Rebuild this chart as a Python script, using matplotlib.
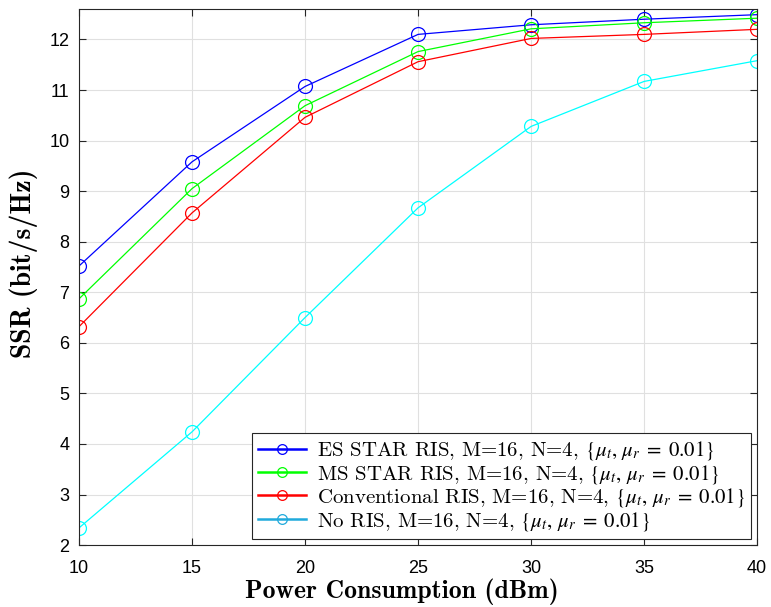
import matplotlib
matplotlib.use("Agg")
import matplotlib.pyplot as plt

power = [10, 15, 20, 25, 30, 35, 40]
es_star = [7.52, 9.58, 11.07, 12.10, 12.29, 12.40, 12.49]
ms_star = [6.87, 9.05, 10.69, 11.76, 12.21, 12.33, 12.42]
conv_ris = [6.32, 8.57, 10.46, 11.56, 12.02, 12.10, 12.20]
no_ris = [2.34, 4.24, 6.50, 8.67, 10.28, 11.17, 11.58]

labels = [
    r"ES STAR RIS, M=16, N=4, $\{\mu_t,\, \mu_r \;=\; 0.01\}$",
    r"MS STAR RIS, M=16, N=4, $\{\mu_t,\, \mu_r \;=\; 0.01\}$",
    r"Conventional RIS, M=16, N=4, $\{\mu_t,\, \mu_r \;=\; 0.01\}$",
    r"No RIS, M=16, N=4, $\{\mu_t,\, \mu_r \;=\; 0.01\}$",
]
colors = ["#0000ff", "#00ff00", "#ff0000", "#00ffff"]
legend_colors = ["#0000ff", "#00ff00", "#ff0000", "#20aadc"]
x_ticks = [10, 15, 20, 25, 30, 35, 40]
y_ticks = [2, 3, 4, 5, 6, 7, 8, 9, 10, 11, 12]

plt.rcParams["mathtext.fontset"] = "stix"
plt.rcParams["font.family"] = ["Liberation Sans", "DejaVu Sans"]

fig = plt.figure(figsize=(7.71, 6.07), dpi=100)
ax = fig.add_axes([0.1025, 0.102, 0.8795, 0.883])

for ys, c, lab in zip([es_star, ms_star, conv_ris, no_ris], colors, labels):
    ax.plot(power, ys, color=c, lw=0.9, marker="o", markersize=10,
            markerfacecolor="none", markeredgewidth=0.9, label=lab)

ax.set_xlim(10, 40)
ax.set_ylim(2, 12.6)
ax.set_xticks(x_ticks)
ax.set_yticks(y_ticks)
ax.tick_params(direction="in", top=True, right=True, labelsize=13, length=5,
               width=0.8, color="#262626")
ax.tick_params(axis="x", pad=11)
ax.tick_params(axis="y", pad=7)
ax.grid(True, color="#e0e0e0", lw=0.8)
ax.set_axisbelow(True)
for s in ax.spines.values():
    s.set_color("#262626")
    s.set_linewidth(0.8)

ax.set_xlabel("Power Consumption (dBm)", fontsize=18.5, family="cmb10")
ax.set_ylabel("SSR (bit/s/Hz)", fontsize=20, family="cmb10")
ax.xaxis.set_label_coords(0.476, -0.063)
ax.yaxis.set_label_coords(-0.06, 0.526)

leg = ax.legend(loc="lower right", prop={"family": "cmr10", "size": 15},
                handlelength=2.3, borderaxespad=0.3, fancybox=False,
                edgecolor="#262626", framealpha=1, labelspacing=0.02,
                handletextpad=0.5, borderpad=0.3)
leg.get_frame().set_linewidth(0.8)
for h, c in zip(leg.legend_handles, legend_colors):
    h.set_markersize(7)
    h.set_linewidth(1.8)
    h.set_color(c)
    h.set_markeredgecolor(c)

fig.savefig("out.png", dpi=100)
